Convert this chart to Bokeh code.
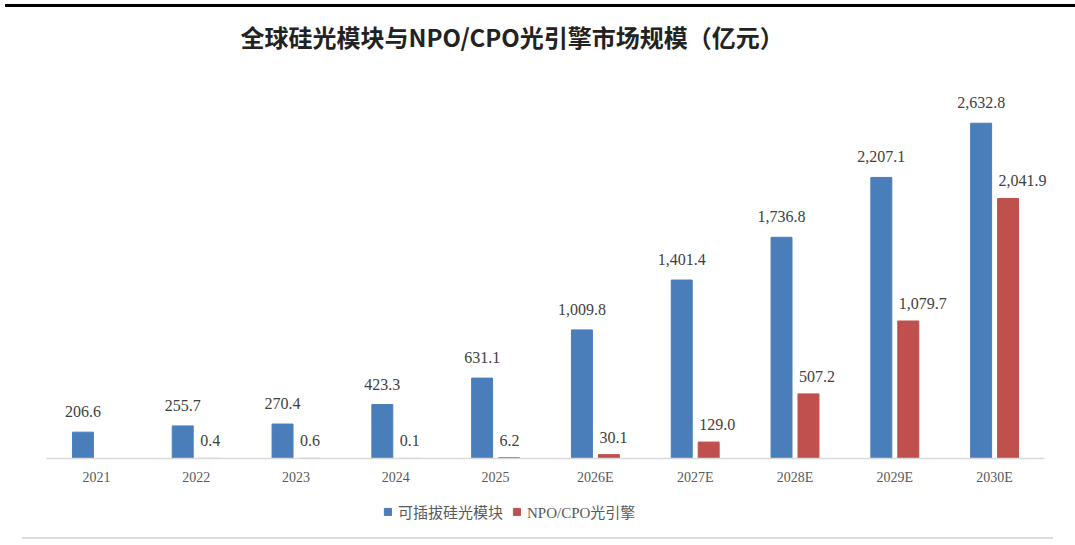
from bokeh.plotting import figure
from bokeh.models import (ColumnDataSource, FactorRange, Range1d, Legend, LegendItem,
                          InlineStyleSheet, LabelSet)
from bokeh.core.properties import value
from bokeh.transform import dodge
from bokeh.embed import file_html
from bokeh.resources import INLINE

years = ["2021", "2022", "2023", "2024", "2025", "2026E", "2027E", "2028E", "2029E", "2030E"]
pluggable = [206.6, 255.7, 270.4, 423.3, 631.1, 1009.8, 1401.4, 1736.8, 2207.1, 2632.8]
npo_cpo = [None, 0.4, 0.6, 0.1, 6.2, 30.1, 129.0, 507.2, 1079.7, 2041.9]

series_names = ["可插拔硅光模块", "NPO/CPO光引擎"]
colors = ["#4a7ebb", "#c0504d"]

def fmt(v):
    return "" if v is None else "{:,.1f}".format(v)

src = ColumnDataSource(dict(
    year=years,
    blue=pluggable,
    red=[float("nan") if v is None else v for v in npo_cpo],
    blue_lbl=[fmt(v) for v in pluggable],
))
red_idx = [i for i, v in enumerate(npo_cpo) if v is not None]
red_src = ColumnDataSource(dict(
    year=[years[i] for i in red_idx],
    red=[npo_cpo[i] for i in red_idx],
    red_lbl=[fmt(npo_cpo[i]) for i in red_idx],
))

x_range = FactorRange(*years, range_padding=0.3106, range_padding_units="absolute", group_padding=0)
p = figure(
    x_range=x_range, y_range=Range1d(-652, 3141),
    width=1075, height=545, output_backend="svg", toolbar_location=None,
    min_border_left=15, min_border_right=0, min_border_top=58, min_border_bottom=4,
)
p.title.text = "全球硅光模块与NPO/CPO光引擎市场规模（亿元）"
p.title.text_font = "Noto Sans CJK SC"
p.title.text_font_style = "bold"
p.title.text_font_size = "24px"
p.title.text_color = "#222222"
p.title.align = "left"
p.title.offset = 225

BAR_W = 0.21
r1 = p.vbar(x=dodge("year", -0.135, range=p.x_range), top="blue", width=BAR_W, source=src,
            fill_color=colors[0], line_color=colors[0], line_width=1)
r2 = p.vbar(x=dodge("year", 0.135, range=p.x_range), top="red", width=BAR_W, source=src,
            fill_color=colors[1], line_color=colors[1], line_width=1)

# value labels: blue centred above bar, red left-aligned at the bar's left edge
blue_labels = LabelSet(x=dodge("year", -0.135, range=p.x_range), y="blue", text="blue_lbl",
                       source=src, text_align="center", text_baseline="alphabetic", y_offset=15,
                       text_font=value("Liberation Serif"), text_font_size=value("16px"),
                       text_color="#404040")
red_labels = LabelSet(x=dodge("year", 0.135 - BAR_W / 2, range=p.x_range), y="red", text="red_lbl",
                      source=red_src, text_align="left", text_baseline="alphabetic",
                      x_offset=1, y_offset=12,
                      text_font=value("Liberation Serif"), text_font_size=value("16px"),
                      text_color="#404040")
p.add_layout(blue_labels)
p.add_layout(red_labels)

p.yaxis.visible = False
p.xgrid.visible = False
p.ygrid.visible = False
p.outline_line_color = None
p.xaxis.fixed_location = 0
p.xaxis.bounds = (0, len(years))
p.xaxis.axis_line_color = "#d9d9d9"
p.xaxis.axis_line_width = 1.5
p.xaxis.major_tick_line_color = None
p.xaxis.minor_tick_line_color = None
p.xaxis.major_label_standoff = 6
p.xaxis.major_label_text_font = "Liberation Serif"
p.xaxis.major_label_text_font_size = "14px"
p.xaxis.major_label_text_color = "#595959"

legend = Legend(items=[LegendItem(label=series_names[0], renderers=[r1]),
                       LegendItem(label=series_names[1], renderers=[r2])],
                orientation="horizontal", location=(368, 19),
                label_text_font="'Liberation Serif', 'Noto Sans CJK SC'",
                label_text_font_size="15px", label_text_color="#595959",
                glyph_width=9, glyph_height=9, label_standoff=6, spacing=9,
                border_line_color=None, background_fill_alpha=0, margin=0, padding=5)
p.add_layout(legend)

# decorative page rules (top black rule, bottom grey rule)
p.stylesheets = [InlineStyleSheet(css="""
:host::before { content: ''; position: absolute; left: 5px; top: 4px; width: 1070px; height: 3px;
                background: #000000; z-index: 20; pointer-events: none; }
:host::after  { content: ''; position: absolute; left: 22px; top: 537px; width: 1031px; height: 2px;
                background: #dcdcdc; z-index: 20; pointer-events: none; }
""")]

open("out.html", "w").write(file_html(p, INLINE))
